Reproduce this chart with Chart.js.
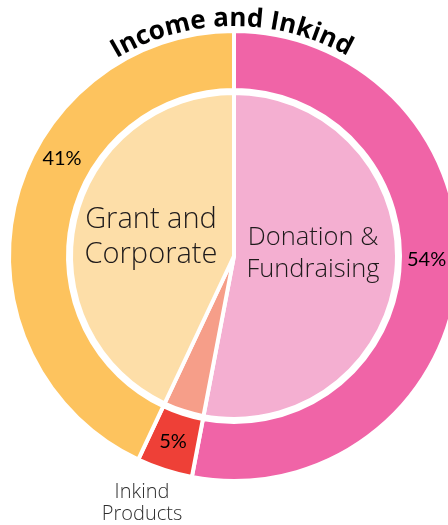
<!DOCTYPE html>
<html><head><meta charset="utf-8">
<script src="https://cdn.jsdelivr.net/npm/chart.js@4/dist/chart.umd.min.js"></script>
<style>
html,body{margin:0;padding:0;background:#fff;overflow:hidden;}
#wrap{width:468px;height:525px;position:relative;}
</style></head><body>
<div id="wrap"><canvas id="c" width="468" height="525"></canvas></div>
<script>
// ---- data ----
const categories = ['Donation & Fundraising', 'Inkind Products', 'Grant and Corporate'];
const outerValues = [53, 4, 43];
const innerValues = [53, 4, 43];
const percentLabels = ['54%', '5%', '41%'];
const categoryLines = [['Donation &', 'Fundraising'], ['Inkind', 'Products'], ['Grant and', 'Corporate']];
const titleText = 'Income and Inkind';

const outerColors = ['#F064A7', '#EE4037', '#FDC35E'];
const innerColors = ['#F4AFD1', '#F69E89', '#FDDEA8'];

const labelPlugin = {
  id: 'labels',
  afterDatasetsDraw(chart) {
    const ctx = chart.ctx;
    const arc = chart.getDatasetMeta(0).data[0];
    const cx = arc.x, cy = arc.y;
    ctx.save();
    // curved title
    ctx.font = 'bold 26px "Open Sans"';
    ctx.fillStyle = '#000';
    ctx.textAlign = 'center';
    ctx.textBaseline = 'alphabetic';
    const R = 230;
    const chars = [...titleText];
    const widths = chars.map(ch => ctx.measureText(ch).width);
    const total = widths.reduce((a, b) => a + b, 0);
    let ang = -total / (2 * R) - 0.01;
    chars.forEach((ch, i) => {
      const a = ang + widths[i] / (2 * R);
      ctx.save();
      ctx.translate(cx, cy);
      ctx.rotate(a);
      ctx.fillText(ch, 0, -R);
      ctx.restore();
      ang += widths[i] / R;
    });
    // percentage labels
    ctx.font = '20px Lato';
    ctx.fillStyle = '#000';
    const pPos = [[173, 10, 'left'], [-61, 192, 'center'], [-172, -91, 'center']];
    percentLabels.forEach((t, i) => {
      ctx.textAlign = pPos[i][2];
      ctx.fillText(t, cx + pPos[i][0], cy + pPos[i][1]);
    });
    // category labels
    ctx.textAlign = 'center';
    const cPos = [
      {dx: 79, dy: -11, lh: 32, font: '300 25.5px "Open Sans"', color: '#1e1a1b'},
      {dx: -92, dy: 242, lh: 22, font: '300 20px "Open Sans"', color: '#2e2e2e'},
      {dx: -83, dy: -28, lh: 35, font: '300 29px "Open Sans"', color: '#1e1a1b'}
    ];
    categoryLines.forEach((lines, i) => {
      const p = cPos[i];
      ctx.font = p.font;
      ctx.fillStyle = p.color;
      lines.forEach((ln, j) => ctx.fillText(ln, cx + p.dx, cy + p.dy + j * p.lh));
    });
    ctx.restore();
  }
};

new Chart(document.getElementById('c'), {
  type: 'doughnut',
  data: {
    labels: categories,
    datasets: [
      {data: outerValues, backgroundColor: outerColors, borderColor: '#fff', borderWidth: 4, weight: 59},
      {data: [1], backgroundColor: 'rgba(0,0,0,0)', borderWidth: 0, weight: 3},
      {data: innerValues, backgroundColor: innerColors, borderColor: '#fff', borderWidth: 4, weight: 163}
    ]
  },
  options: {
    responsive: false,
    animation: false,
    cutout: 0,
    radius: 225,
    layout: {padding: {left: 11, right: 11, top: 33, bottom: 46}},
    plugins: {legend: {display: false}, title: {display: false}, tooltip: {enabled: false}}
  },
  plugins: [labelPlugin]
});
</script>
</body></html>
